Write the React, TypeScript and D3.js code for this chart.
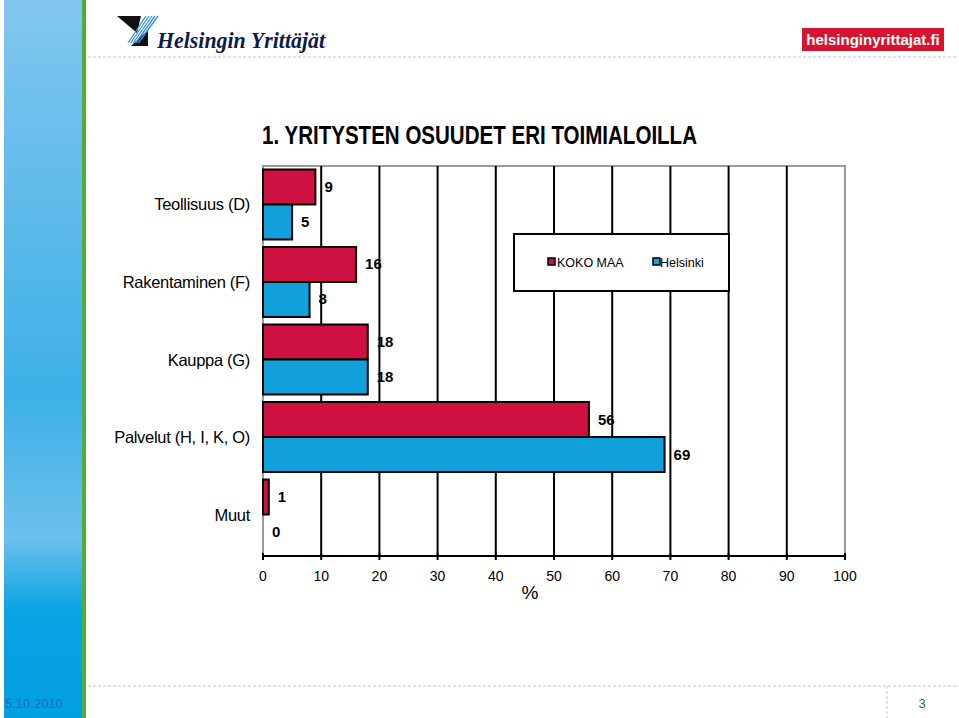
import React from "react";
import * as d3 from "d3";

const categories = ["Teollisuus (D)", "Rakentaminen (F)", "Kauppa (G)", "Palvelut (H, I, K, O)", "Muut"];
const kokoMaa = [9, 16, 18, 56, 1];
const helsinki = [5, 8, 18, 69, 0];
const xTicks = [0, 10, 20, 30, 40, 50, 60, 70, 80, 90, 100];
const seriesNames = ["KOKO MAA", "Helsinki"];

const RED = "#CE1141";
const BLUE = "#12A0DB";
const FONT = "'Liberation Sans', Arial, sans-serif";

export default function App() {
  const W = 959, H = 718;
  const x = d3.scaleLinear().domain([0, 100]).range([263, 845]);
  const y = d3.scaleBand<string>().domain(categories).range([166, 556])
    .paddingInner(0.097).paddingOuter(0.0645).align(0.35);
  const bh = y.bandwidth() / 2;
  const top = 166, bottom = 556;
  const series = [
    { name: seriesNames[0], values: kokoMaa, color: RED, off: 0 },
    { name: seriesNames[1], values: helsinki, color: BLUE, off: 1 },
  ];

  return (
    <svg width={W} height={H} style={{ position: "absolute", left: 0, top: 0, background: "#fff" }} fontFamily={FONT}>
      <defs>
        <linearGradient id="side" x1="0" y1="0" x2="0" y2="1">
          <stop offset="0" stopColor="#80c7ef" />
          <stop offset="0.3" stopColor="#5dbaea" />
          <stop offset="0.55" stopColor="#3db0e7" />
          <stop offset="0.75" stopColor="#6cc0ec" />
          <stop offset="0.85" stopColor="#0aa3e4" />
          <stop offset="1" stopColor="#00a0e2" />
        </linearGradient>
      </defs>
      {/* side column */}
      <rect x={4} y={0} width={78} height={H} fill="url(#side)" />
      <rect x={82} y={0} width={4} height={H} fill="#53ad33" />
      <text x={5} y={708} fontSize={13} fill="#1a6bb5">5.10.2010</text>

      {/* header */}
      <line x1={88} x2={W} y1={57} y2={57} stroke="#c4c4c4" strokeDasharray="3,2" />
      <line x1={88} x2={W} y1={686} y2={686} stroke="#c4c4c4" strokeDasharray="3,2" />
      <line x1={887} x2={887} y1={686} y2={718} stroke="#c4c4c4" strokeDasharray="3,2" />
      <text x={922} y={708} fontSize={13} fill="#2a5f8f" textAnchor="middle">3</text>

      {/* logo */}
      <polygon points="117,16 141,16 137,33" fill="#111" />
      <polygon points="131,46 148,46 148,30" fill="#111" />
      {[0, 1, 2, 3, 4].map((i) => (
        <line key={i} x1={128 + i * 2.6} y1={43} x2={146 + i * 3} y2={16} stroke="#3a8fd8" strokeWidth={1.3} />
      ))}
      <text x={157} y={48} fontSize={23} fontFamily="'Liberation Serif', 'DejaVu Serif', serif" fontStyle="italic" fontWeight="bold" fill="#0b1c4a" textLength={168} lengthAdjust="spacingAndGlyphs">Helsingin Yrittäjät</text>
      <rect x={802} y={28} width={142} height={23} fill="#d6142f" />
      <text x={873} y={45} fontSize={15} fontWeight="bold" fill="#fff" textAnchor="middle">helsinginyrittajat.fi</text>

      {/* title */}
      <text x={262} y={144} fontSize={26} fontWeight="bold" fill="#000" textLength={435} lengthAdjust="spacingAndGlyphs">1. YRITYSTEN OSUUDET ERI TOIMIALOILLA</text>

      {/* value labels (drawn below grid lines) */}
      {series.map((s) =>
        s.values.map((v, i) => (
          <text key={s.name + i} x={x(v) + 9} y={(y(categories[i]) as number) + s.off * bh + bh / 2 + 5}
            fontSize={15} fontWeight="bold" fill="#000">{v}</text>
        ))
      )}

      {/* plot border */}
      <rect x={x(0)} y={top} width={x(100) - x(0)} height={bottom - top} fill="none" stroke="#9a9a9a" strokeWidth={2} />
      {/* grid lines */}
      {xTicks.filter((t) => t > 0 && t < 100).map((t) => (
        <line key={t} x1={x(t)} x2={x(t)} y1={top} y2={bottom} stroke="#000" strokeWidth={2} />
      ))}

      {/* bars */}
      {series.map((s) =>
        s.values.map((v, i) => v > 0 ? (
          <rect key={"b" + s.name + i} x={x(0)} y={(y(categories[i]) as number) + s.off * bh}
            width={x(v) - x(0)} height={bh} fill={s.color} stroke="#000" strokeWidth={2} />
        ) : null)
      )}

      {/* x axis */}
      <line x1={x(0)} x2={x(100)} y1={bottom} y2={bottom} stroke="#000" strokeWidth={2} />
      {xTicks.map((t) => (
        <g key={"t" + t}>
          <line x1={x(t)} x2={x(t)} y1={bottom - 3} y2={bottom + 4} stroke="#000" strokeWidth={2} />
          <text x={x(t)} y={581} fontSize={14} textAnchor="middle" fill="#000">{t}</text>
        </g>
      ))}
      <text x={530} y={599} fontSize={19} textAnchor="middle" fill="#000">%</text>

      {/* category labels */}
      {categories.map((c) => (
        <text key={c} x={250} y={(y(c) as number) + y.bandwidth() / 2 + 6} fontSize={16.5} textAnchor="end" fill="#000" letterSpacing={-0.3}>{c}</text>
      ))}

      {/* legend */}
      <rect x={514} y={234} width={215} height={57} fill="#fff" stroke="#000" strokeWidth={2} />
      {series.map((s, i) => (
        <g key={"l" + s.name}>
          <rect x={548 + i * 105} y={258} width={7} height={7} fill={s.color} stroke="#000" strokeWidth={1.5} />
          <text x={557 + i * 103} y={267} fontSize={12.5} fill="#000">{s.name}</text>
        </g>
      ))}
    </svg>
  );
}
